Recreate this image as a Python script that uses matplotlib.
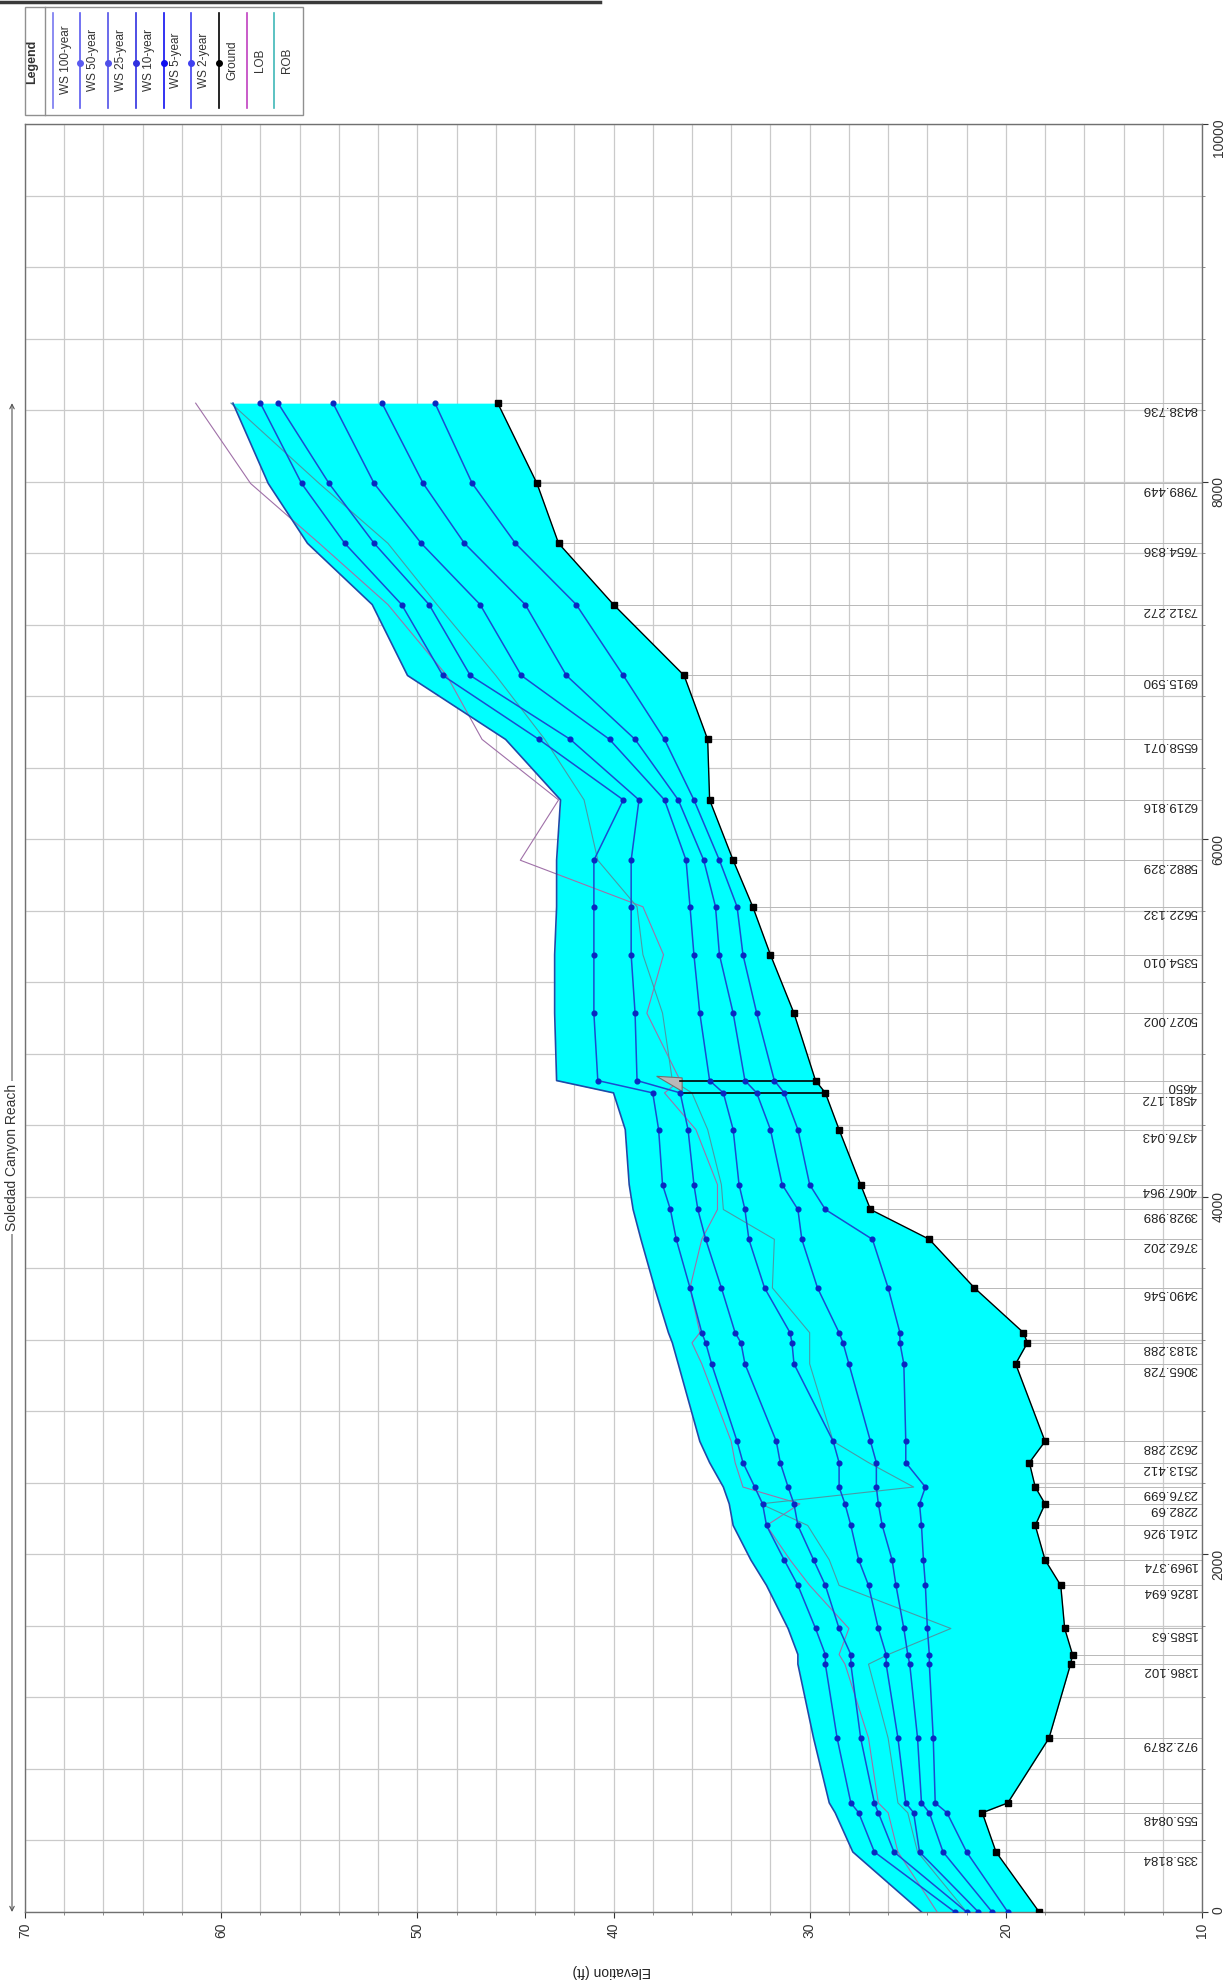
import numpy as np
import matplotlib.pyplot as plt
from matplotlib.transforms import blended_transform_factory
from matplotlib.patches import Polygon, Rectangle

plt.rcParams['font.family'] = ['Liberation Sans', 'DejaVu Sans']

W, H = 1225, 1986

# cross sections, upstream to downstream (main channel distance, ft)
stations = [8438.736, 7989.449, 7654.836, 7312.272, 6915.590, 6558.071,
            6219.816, 5882.329, 5622.132, 5354.010, 5027.002, 4650.0,
            4581.172, 4376.043, 4067.964, 3928.989, 3762.202, 3490.546,
            3240.0, 3183.288, 3065.728, 2632.288, 2513.412, 2376.699,
            2282.69, 2161.926, 1969.374, 1826.694, 1585.63, 1440.0,
            1386.102, 972.2879, 610.0, 555.0848, 335.8184, 0.0]
station_labels = ['8438.736', '7989.449', '7654.836', '7312.272', '6915.590', '6558.071',
                  '6219.816', '5882.329', '5622.132', '5354.010', '5027.002', '4650',
                  '4581.172', '4376.043', '4067.964', '3928.989', '3762.202', '3490.546',
                  '', '3183.288', '3065.728', '2632.288', '2513.412', '2376.699',
                  '2282.69', '2161.926', '1969.374', '1826.694', '1585.63', '',
                  '1386.102', '972.2879', '', '555.0848', '335.8184', '']

# water surface elevations (ft)
ws_100 = [59.4, 57.6, 55.6, 52.3, 50.5, 45.5, 42.7, 42.9, 42.9, 43.0, 43.0, 42.9,
          40.0, 39.4, 39.2, 39.0, 38.6, 37.9, 37.2, 37.0, 36.7, 35.6, 35.1, 34.4,
          34.1, 33.9, 33.0, 32.2, 31.1, 30.6, 30.6, 29.8, 29.0, 28.7, 27.8, 24.3]
ws_50 = [58.0, 55.9, 53.7, 50.8, 48.7, 43.8, 39.5, 41.0, 41.0, 41.0, 41.0, 40.8,
         38.0, 37.7, 37.5, 37.1, 36.8, 36.1, 35.5, 35.3, 35.0, 33.7, 33.4, 32.8,
         32.4, 32.2, 31.3, 30.6, 29.7, 29.2, 29.2, 28.6, 27.9, 27.5, 26.7, 22.6]
ws_25 = [57.1, 54.5, 52.2, 49.4, 47.3, 42.2, 38.7, 39.1, 39.1, 39.1, 38.9, 38.8,
         36.6, 36.2, 35.9, 35.7, 35.3, 34.5, 33.8, 33.5, 33.3, 31.7, 31.5, 31.1,
         30.8, 30.6, 29.8, 29.2, 28.5, 27.9, 27.9, 27.4, 26.7, 26.5, 25.7, 22.0]
ws_10 = [54.3, 52.2, 49.8, 46.8, 44.7, 40.2, 37.4, 36.3, 36.1, 35.9, 35.6, 35.1,
         34.4, 33.9, 33.6, 33.3, 33.1, 32.3, 31.0, 30.9, 30.8, 28.8, 28.5, 28.5,
         28.2, 27.9, 27.5, 27.0, 26.5, 26.1, 26.1, 25.5, 25.1, 24.7, 24.4, 21.4]
ws_5 = [51.8, 49.7, 47.6, 44.5, 42.4, 38.9, 36.7, 35.4, 34.8, 34.6, 33.9, 33.3,
        32.7, 32.0, 31.4, 30.6, 30.4, 29.6, 28.5, 28.3, 28.0, 26.9, 26.6, 26.6,
        26.5, 26.3, 25.8, 25.6, 25.2, 25.0, 24.9, 24.5, 24.3, 23.9, 23.2, 20.7]
ws_2 = [49.1, 47.2, 45.0, 41.9, 39.5, 37.4, 35.9, 34.6, 33.7, 33.4, 32.7, 31.8,
        31.3, 30.6, 30.0, 29.2, 26.8, 26.0, 25.4, 25.4, 25.2, 25.1, 25.1, 24.1,
        24.4, 24.3, 24.2, 24.1, 24.0, 23.9, 23.9, 23.7, 23.6, 23.0, 22.0, 19.9]
ground = [45.9, 43.9, 42.8, 40.0, 36.4, 35.2, 35.1, 33.9, 32.9, 32.0, 30.8, 29.7,
          29.2, 28.5, 27.4, 26.9, 23.9, 21.6, 19.1, 18.9, 19.5, 18.0, 18.8, 18.5,
          18.0, 18.5, 18.0, 17.2, 17.0, 16.6, 16.7, 17.8, 19.9, 21.2, 20.5, 18.3]
lob = [61.3, 58.5, 55.0, 51.5, 48.5, 46.7, 42.8, 44.75, 38.5, 37.45, 38.3, 36.6,
       37.4, 35.8, 34.7, 34.7, 35.5, 36.1, 35.6, 36.0, 35.5, 34.0, 33.8, 33.4,
       30.5, 32.2, 31.0, 30.0, 28.0, 28.5, 28.2, 27.0, 26.5, 26.0, 25.5, 23.5]
rob = [59.5, 55.0, 51.5, 49.0, 46.0, 43.5, 41.5, 40.8, 38.8, 38.5, 37.5, 37.0,
       36.0, 35.2, 34.5, 34.4, 31.8, 31.9, 30.0, 30.0, 30.0, 28.8, 27.0, 24.7,
       32.5, 30.1, 29.0, 28.5, 22.8, 26.0, 27.0, 26.0, 25.5, 25.0, 24.5, 22.0]

# bridge deck at RS 4650
deck_sta = [4674.0, 4665.0, 4590.0]
deck_elev = [37.8, 36.5, 36.5]
bridge_faces = [4650.0, 4581.172]
low_chord = 36.6

profiles = ['WS 100-year', 'WS 50-year', 'WS 25-year', 'WS 10-year', 'WS 5-year', 'WS 2-year']
ws_all = [ws_100, ws_50, ws_25, ws_10, ws_5, ws_2]
ws_color = '#1a4cd0'
dot_color = '#0a28c0'

fig = plt.figure(figsize=(W / 100, H / 100), dpi=100)
ax = fig.add_axes([25 / W, (H - 1912) / H, (1202 - 25) / W, (1912 - 124) / H])

sta = np.array(stations)
gr = np.array(ground)

# grid
ax.set_xlim(70, 10)
ax.set_ylim(0, 10000)
ax.set_xticks(np.arange(10, 71, 10))
ax.set_xticks(np.arange(10, 71, 2), minor=True)
ax.set_yticks(np.arange(0, 10001, 2000))
ax.set_yticks(np.arange(0, 10001, 400), minor=True)
ax.grid(True, which='both', color='#cacaca', lw=0.9)
ax.set_axisbelow(True)

# cross-section lines up to the ground
ax.hlines(sta, gr, 10, color='#b8b8b8', lw=0.7, zorder=1.5)

# water area for the highest profile
ax.fill_betweenx(sta, ws_100, gr, color='#00ffff', lw=0, zorder=2)

# bank stations
ax.plot(lob, sta, color='#a070a8', lw=0.8, zorder=3)
ax.plot(rob, sta, color='#4a9aa6', lw=0.8, zorder=3)

# bridge
ax.add_patch(Polygon(np.column_stack([deck_elev, deck_sta]), closed=True,
                     facecolor='#b8b8b8', edgecolor='#707070', lw=0.8, zorder=4))
for s, g in zip(bridge_faces, np.interp(bridge_faces, sta[::-1], gr[::-1])):
    ax.plot([low_chord, g], [s, s], color='black', lw=1.2, zorder=5)

# water surface profiles
ax.plot(ws_100, sta, color='#1f4aa8', lw=1.2, zorder=5)
for ws in ws_all[1:]:
    ax.plot(ws, sta, color=ws_color, lw=1.1, marker='o', ms=3.4,
            mfc=dot_color, mec=dot_color, zorder=5)

# ground
ax.plot(gr, sta, color='black', lw=1.0, marker='s', ms=3.8, zorder=6)

# cross-section labels
for s, lbl in zip(stations, station_labels):
    if lbl:
        ax.annotate(lbl, xy=(10, s), xytext=(-3.5, -4), textcoords='offset points',
                    rotation=180, ha='right', va='center', fontsize=9.5, color='#222222')

# axes styling
for sp in ax.spines.values():
    sp.set_color('#707070')
    sp.set_linewidth(1.0)
ax.yaxis.tick_right()
ax.tick_params(axis='both', which='major', direction='out', length=4, labelsize=10,
               colors='#333333', labelrotation=90)
ax.tick_params(axis='both', which='minor', direction='out', length=2, colors='#777777')
ax.tick_params(axis='y', pad=3)

fig.text(612 / W, 1 - 1971 / H, 'Elevation (ft)', rotation=180, ha='center', va='center',
         fontsize=10, color='#222222')

# reach extent marker on the left
trans = blended_transform_factory(ax.transAxes, ax.transData)
xr = (12 - 25) / (1202 - 25)
ax.annotate('', xy=(xr, stations[0]), xytext=(xr, stations[-1]), xycoords=trans,
            textcoords=trans, annotation_clip=False,
            arrowprops=dict(arrowstyle='<->', color='#555555', lw=0.8,
                            shrinkA=0, shrinkB=0, mutation_scale=8))
ax.text(xr, (stations[0] + stations[-1]) / 2, 'Soledad Canyon Reach', transform=trans,
        rotation=90, ha='center', va='center', fontsize=10, color='#333333',
        bbox=dict(facecolor='white', edgecolor='none', pad=2), clip_on=False)

# legend, laid out in pixel coordinates
lax = fig.add_axes([0, 0, 1, 1], zorder=10)
lax.set_xlim(0, W)
lax.set_ylim(H, 0)
lax.axis('off')
lax.plot([0, 600], [1.5, 1.5], color='#3a3a3a', lw=2.5)
lax.add_patch(Rectangle((25, 7), 278, 108, facecolor='white', edgecolor='#909090', lw=1.0))
lax.plot([45, 45], [7, 115], color='#909090', lw=1.0)
lax.text(32, 62, 'Legend', rotation=90, ha='center', va='center', fontsize=9,
         fontweight='bold', color='#333333')

names = profiles + ['Ground', 'LOB', 'ROB']
colors = ['#7878f0', '#5a5af0', '#5050e8', '#3030e0', '#1010f0', '#4040f0',
          'black', '#c040c0', '#40b8b8']
markers = [None, 'o', 'o', 'o', 'o', 'o', 'o', None, None]
for i, (nm, c, m) in enumerate(zip(names, colors, markers)):
    x0 = 52.7 + i * 27.7
    lax.plot([x0, x0], [13, 108], color=c, lw=1.2)
    if m:
        lax.plot([x0], [63], marker=m, ms=4, color=c)
    lax.text(x0 + 13, 60, nm, rotation=90, ha='center', va='center', fontsize=8.5,
             color='#333333')

fig.savefig('out.png', dpi=100)
